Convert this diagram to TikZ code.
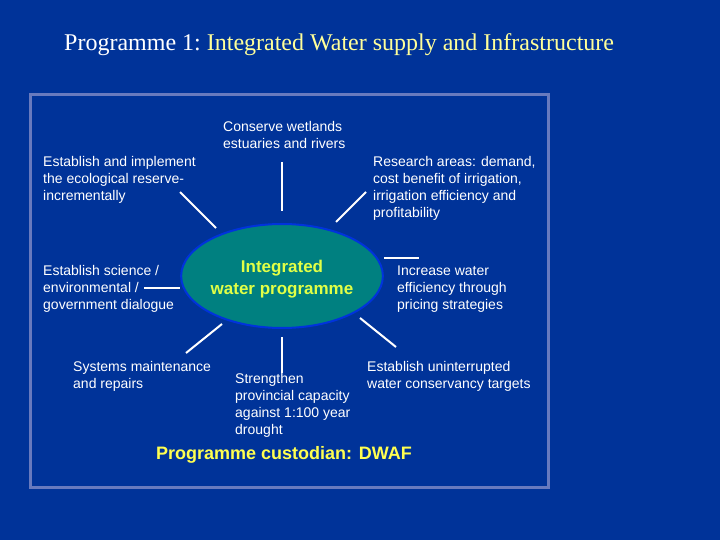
\documentclass[tikz,border=0pt]{standalone}
\usepackage{fontspec}
\setmainfont{Liberation Serif}
\newfontfamily\arial{Liberation Sans}
\usetikzlibrary{shapes.geometric}
\definecolor{bgblue}{RGB}{0,51,153}
\definecolor{framecol}{RGB}{104,122,190}
\definecolor{ellfill}{RGB}{0,128,128}
\definecolor{ellborder}{RGB}{0,51,220}
\definecolor{ttlyellow}{RGB}{255,255,153}
\definecolor{elltext}{RGB}{225,255,70}
\definecolor{custyellow}{RGB}{255,255,80}
\begin{document}
\begin{tikzpicture}[x=1pt,y=-1pt,
  lbl/.style={anchor=north west,inner sep=0pt,align=left,text=white,
    font=\arial\fontsize{14}{17}\selectfont},
  spoke/.style={draw=white,line width=2pt}]
\useasboundingbox[fill=bgblue] (0,0) rectangle (720,540);
% title
\node[anchor=base west,inner sep=0pt,font=\fontsize{24}{28}\selectfont] (title) at (64,51)
  {\textcolor{white}{Programme 1:}\ \textcolor{ttlyellow}{Integrated Water supply and Infrastructure}};
% frame
\draw[framecol,line width=3pt] (30,95) rectangle (548,487);
% centre ellipse
\node[ellipse,draw=ellborder,line width=2pt,fill=ellfill,minimum width=200pt,minimum height=104pt,
  inner sep=0pt,align=center,text=elltext,font=\arial\bfseries\fontsize{17}{22}\selectfont]
  (ell) at (282,276) {\rule{0pt}{18.5pt}Integrated\\water programme};
% labels
\node[lbl] (conserve) at (223,119) {\strut Conserve wetlands\\estuaries and rivers};
\node[lbl] (ecoreserve) at (43,154) {\strut Establish and implement\\the ecological reserve-\\incrementally};
\node[lbl] (research) at (373,154) {\strut Research areas: demand,\\cost benefit of irrigation,\\irrigation efficiency and\\profitability};
\node[lbl] (science) at (43,263) {\strut Establish science /\\environmental /\\government dialogue};
\node[lbl] (pricing) at (397,263) {\strut Increase water\\efficiency through\\pricing strategies};
\node[lbl] (systems) at (73,359) {\strut Systems maintenance\\and repairs};
\node[lbl] (strengthen) at (235,371) {\strut Strengthen\\provincial capacity\\against 1:100 year\\drought};
\node[lbl] (targets) at (367,359) {\strut Establish uninterrupted\\water conservancy targets};
\node[anchor=center,inner sep=0pt,text=custyellow,font=\arial\bfseries\fontsize{18}{22}\selectfont]
  (custodian) at (284,455) {Programme custodian: DWAF};
% spoke end points
\coordinate (nA) at (282,162); \coordinate (nB) at (282,211);
\coordinate (nwA) at (180,192); \coordinate (nwB) at (216,228);
\coordinate (neA) at (366,192); \coordinate (neB) at (336,222);
\coordinate (wA) at (144,288); \coordinate (wB) at (180,288);
\coordinate (eA) at (384,258); \coordinate (eB) at (419,258);
\coordinate (swA) at (222,324); \coordinate (swB) at (186,353);
\coordinate (sA) at (282,337); \coordinate (sB) at (282,373);
\coordinate (seA) at (360,318); \coordinate (seB) at (396,347);
\draw[spoke] (nA) -- (nB);
\draw[spoke] (nwA) -- (nwB);
\draw[spoke] (neA) -- (neB);
\draw[spoke] (wA) -- (wB);
\draw[spoke] (eA) -- (eB);
\draw[spoke] (swA) -- (swB);
\draw[spoke] (sA) -- (sB);
\draw[spoke] (seA) -- (seB);
\end{tikzpicture}
\end{document}
